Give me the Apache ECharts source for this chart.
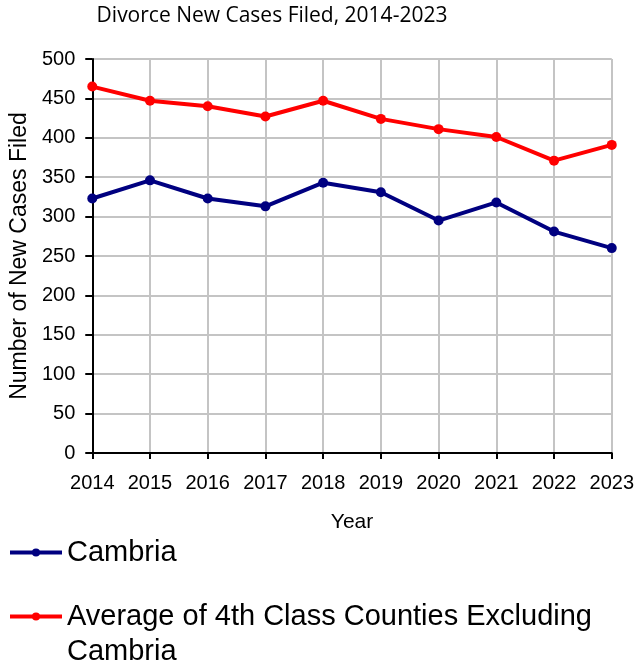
<!DOCTYPE html>
<html>
<head>
<meta charset="utf-8">
<script src="https://cdn.jsdelivr.net/npm/echarts@6/dist/echarts.min.js"></script>
<style>
html,body{margin:0;padding:0;background:#fff;}
#chart{width:637px;height:664px;}
</style>
</head>
<body>
<div id="chart"></div>
<script>
var years = ['2014','2015','2016','2017','2018','2019','2020','2021','2022','2023'];
var cambria = [323, 346, 323, 313, 343, 331, 295, 318, 281, 260];
var average4th = [465, 447, 440, 427, 447, 424, 411, 401, 371, 391];
var yTicks = {min: 0, max: 500, interval: 50};
var seriesNames = ['Cambria', 'Average of 4th Class Counties Excluding Cambria'];

var chart = echarts.init(document.getElementById('chart'), null, {renderer: 'canvas'});
var font = 'Liberation Sans, Arial, sans-serif';
chart.setOption({
  animation: false,
  backgroundColor: '#ffffff',
  title: {
    text: 'Divorce New Cases Filed, 2014-2023',
    left: 267, top: 1, textAlign: 'center',
    textStyle: {fontFamily: 'Open Sans', fontSize: 21, fontWeight: 'normal', color: '#000'}
  },
  grid: {left: 90, right: 24, top: 59, bottom: 211, containLabel: false},
  xAxis: {
    type: 'category', data: years, boundaryGap: false,
    name: 'Year', nameLocation: 'middle', nameGap: 59,
    nameTextStyle: {fontFamily: font, fontSize: 21, color: '#000'},
    axisLine: {lineStyle: {color: '#000', width: 2}},
    axisTick: {show: true, length: 6, interval: 0, lineStyle: {color: '#000', width: 2}},
    axisLabel: {fontFamily: font, fontSize: 20, color: '#000', margin: 20, interval: 0},
    splitLine: {show: true, interval: 0, lineStyle: {color: '#c4c4c4', width: 2}}
  },
  yAxis: {
    type: 'value', min: yTicks.min, max: yTicks.max, interval: yTicks.interval,
    name: 'Number of New Cases Filed', nameLocation: 'middle', nameGap: 56,
    nameTextStyle: {fontFamily: font, fontSize: 23, color: '#000'},
    axisLine: {show: true, lineStyle: {color: '#000', width: 2}},
    axisTick: {show: true, length: 7, lineStyle: {color: '#000', width: 2}},
    axisLabel: {fontFamily: font, fontSize: 20, color: '#000', margin: 17},
    splitLine: {show: true, lineStyle: {color: '#c4c4c4', width: 2}}
  },
  legend: {
    orient: 'vertical', left: 3, top: 529, itemWidth: 52, itemHeight: 10, itemGap: 27,
    data: seriesNames,
    lineStyle: {width: 4},
    formatter: function (n) { return n === seriesNames[1] ? 'Average of 4th Class Counties Excluding' : n; },
    textStyle: {fontFamily: font, fontSize: 29, color: '#000', lineHeight: 37}
  },
  graphic: [{
    type: 'text', left: 67, top: 637,
    style: {text: 'Cambria', font: '29px Liberation Sans, Arial, sans-serif', fill: '#000'}
  }],
  series: [
    {name: seriesNames[0], type: 'line', data: cambria, symbol: 'circle', symbolSize: 10,
     lineStyle: {color: '#000080', width: 4}, itemStyle: {color: '#000080'}},
    {name: seriesNames[1], type: 'line', data: average4th, symbol: 'circle', symbolSize: 10,
     lineStyle: {color: '#ff0000', width: 4}, itemStyle: {color: '#ff0000'}}
  ]
});
</script>
</body>
</html>
